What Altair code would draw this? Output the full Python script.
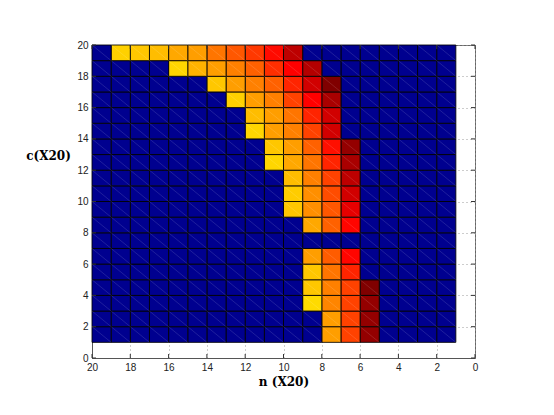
import altair as alt
import pandas as pd

# ---- data ----
# rows (lower y edge of each cell row) that contain coloured cells
rows_y = [19, 18, 17, 16, 15, 14, 13, 12, 11, 10, 9, 8, 6, 5, 4, 3, 2, 1]
# upper x edge of the first (left-most) coloured cell of each row
row_start = [19, 16, 14, 13, 12, 12, 11, 11, 10, 10, 10, 9, 9, 9, 9, 9, 8, 8]
# values (jet colour scale 0..1) of the coloured cells, left to right
row_values = [
    [0.67, 0.68, 0.69, 0.71, 0.72, 0.76, 0.79, 0.82, 0.865, 0.94],
    [0.665, 0.70, 0.72, 0.75, 0.78, 0.83, 0.875, 0.95],
    [0.68, 0.72, 0.75, 0.78, 0.84, 0.92, 1.0],
    [0.67, 0.72, 0.75, 0.81, 0.875, 0.96],
    [0.69, 0.72, 0.76, 0.84, 0.92],
    [0.665, 0.72, 0.75, 0.81, 0.92],
    [0.68, 0.72, 0.78, 0.86, 0.98],
    [0.665, 0.71, 0.76, 0.84, 0.96],
    [0.69, 0.75, 0.81, 0.94],
    [0.675, 0.735, 0.80, 0.92],
    [0.68, 0.735, 0.79, 0.90],
    [0.71, 0.78, 0.87],
    [0.72, 0.785, 0.87],
    [0.68, 0.76, 0.84],
    [0.68, 0.75, 0.81, 1.0],
    [0.66, 0.745, 0.81, 0.98],
    [0.72, 0.81, 0.98],
    [0.72, 0.81, 0.98],
]
x_cells = list(range(1, 20))
y_cells = list(range(1, 20))
x_ticks = list(range(0, 21, 2))
y_ticks = list(range(0, 21, 2))

jet_stops = [0.0, 0.125, 0.375, 0.625, 0.875, 1.0]
jet_colors = ["#00008F", "#0000FF", "#00FFFF", "#FFFF00", "#FF0000", "#800000"]

# ---- build table ----
grid = {(x, y): 0.0 for x in x_cells for y in y_cells}
for y, s, vals in zip(rows_y, row_start, row_values):
    for i, v in enumerate(vals):
        grid[(s - 1 - i, y)] = v
df = pd.DataFrame(
    [{"x": x, "x2": x + 1, "y": y, "y2": y + 1, "v": v} for (x, y), v in grid.items()]
)
xt = pd.DataFrame({"t": x_ticks})
yt = pd.DataFrame({"t": y_ticks})

W, H = 383, 313
xscale = alt.Scale(domain=[0, 20], reverse=True, nice=False, zero=False)
yscale = alt.Scale(domain=[0, 20], nice=False, zero=False)
cscale = alt.Scale(domain=jet_stops, range=jet_colors, interpolate="rgb")

ax_x = alt.Axis(title="n (X20)", values=x_ticks, titlePadding=4)
ax_y = alt.Axis(
    title="c(X20)",
    values=y_ticks,
    titleAngle=0,
    titleX=-44,
    titleY=110,
    titleAlign="center",
    titleBaseline="middle",
)

rects = alt.Chart(df).mark_rect(
    stroke="#000000", strokeWidth=1, strokeOpacity=0.85
).encode(
    x=alt.X("x:Q", scale=xscale, axis=ax_x),
    x2="x2:Q",
    y=alt.Y("y:Q", scale=yscale, axis=ax_y),
    y2="y2:Q",
    color=alt.Color("v:Q", scale=cscale, legend=None),
)

diag = alt.Chart(df).mark_rule(color="#ffffff", opacity=0.12, strokeWidth=1).encode(
    x=alt.X("x2:Q", scale=xscale, axis=ax_x),
    y=alt.Y("y2:Q", scale=yscale, axis=ax_y),
    x2="x:Q",
    y2="y:Q",
)

tick_color = "#333333"
xt_bottom = alt.Chart(xt).mark_rule(color=tick_color).encode(
    x=alt.X("t:Q", scale=xscale, axis=ax_x), y=alt.value(H), y2=alt.value(H - 4)
)
xt_top = alt.Chart(xt).mark_rule(color=tick_color).encode(
    x=alt.X("t:Q", scale=xscale, axis=ax_x), y=alt.value(0), y2=alt.value(4)
)
yt_left = alt.Chart(yt).mark_rule(color=tick_color).encode(
    y=alt.Y("t:Q", scale=yscale, axis=ax_y), x=alt.value(0), x2=alt.value(4)
)
yt_right = alt.Chart(yt).mark_rule(color=tick_color).encode(
    y=alt.Y("t:Q", scale=yscale, axis=ax_y), x=alt.value(W), x2=alt.value(W - 4)
)

chart = (
    alt.layer(rects, diag, xt_bottom, xt_top, yt_left, yt_right)
    .properties(
        width=W,
        height=H,
        autosize=alt.AutoSizeParams(type="none"),
        padding={"left": 84, "top": 37, "right": 60, "bottom": 40},
        background="#ffffff",
    )
    .configure_view(stroke="#666666", strokeWidth=1)
    .configure_axis(
        format="d",
        ticks=False,
        tickSize=0,
        labelFont="Liberation Sans",
        labelFontSize=10,
        labelColor="#222222",
        labelPadding=4,
        labelFlush=False,
        grid=True,
        gridDash=[1, 3],
        gridColor="#9a9a9a",
        gridWidth=1,
        domainColor="#555555",
        titleFont="DejaVu Serif",
        titleFontWeight="bold",
        titleFontSize=12,
        titleColor="#000000",
    )
)

chart.save("out.html", embed_options={"renderer": "svg", "actions": False})
